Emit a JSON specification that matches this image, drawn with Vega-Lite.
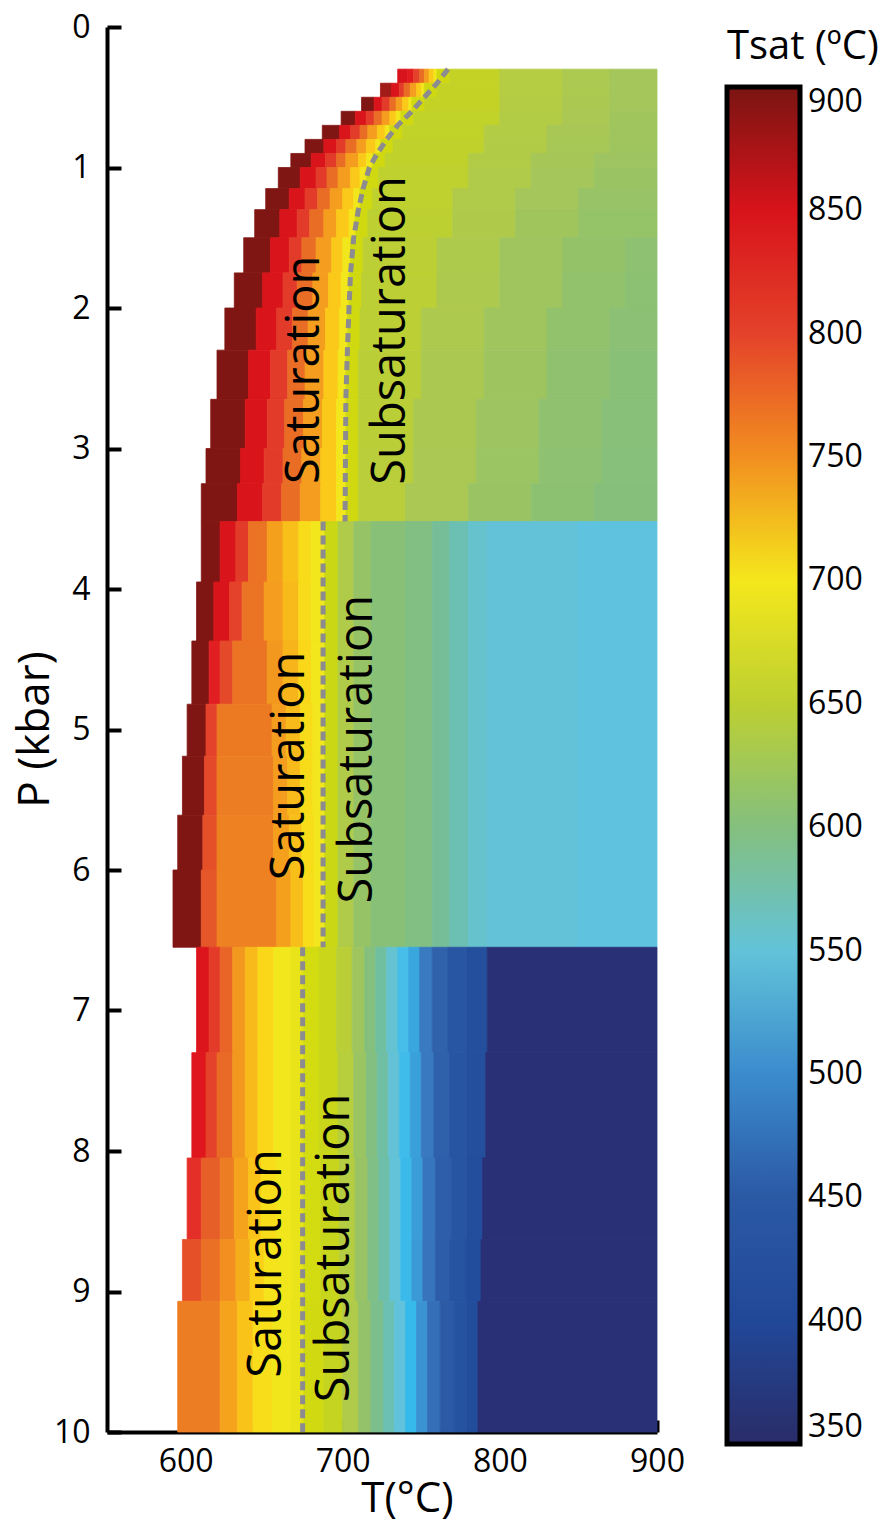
{
"$schema":"https://vega.github.io/schema/vega-lite/v6.json",
"width":550,"height":1405,
"autosize":"none",
"padding":{"left":107,"top":27,"right":232,"bottom":92},
"background":"white",
"config":{"view":{"stroke":null},"font":"Open Sans","legend":{"gradientVerticalMaxLength":1500}},
"layer":[
{"data":{"values":[
{"t0":735,"t1":741,"p0":0.3,"p1":0.4,"v":850},{"t0":741,"t1":745,"p0":0.3,"p1":0.4,"v":835},{"t0":745,"t1":749,"p0":0.3,"p1":0.4,"v":800},{"t0":749,"t1":752,"p0":0.3,"p1":0.4,"v":770},{"t0":752,"t1":755,"p0":0.3,"p1":0.4,"v":742},{"t0":755,"t1":758,"p0":0.3,"p1":0.4,"v":715},{"t0":758,"t1":760,"p0":0.3,"p1":0.4,"v":698},{"t0":760,"t1":768,"p0":0.3,"p1":0.4,"v":668},{"t0":768,"t1":800,"p0":0.3,"p1":0.4,"v":654},{"t0":800,"t1":840,"p0":0.3,"p1":0.4,"v":644},{"t0":840,"t1":870,"p0":0.3,"p1":0.4,"v":636},{"t0":870,"t1":900,"p0":0.3,"p1":0.4,"v":630},
{"t0":724,"t1":731,"p0":0.4,"p1":0.5,"v":870},{"t0":731,"t1":736,"p0":0.4,"p1":0.5,"v":848},{"t0":736,"t1":739,"p0":0.4,"p1":0.5,"v":805},{"t0":739,"t1":743,"p0":0.4,"p1":0.5,"v":770},{"t0":743,"t1":747,"p0":0.4,"p1":0.5,"v":742},{"t0":747,"t1":750,"p0":0.4,"p1":0.5,"v":715},{"t0":750,"t1":752,"p0":0.4,"p1":0.5,"v":698},{"t0":752,"t1":760,"p0":0.4,"p1":0.5,"v":668},{"t0":760,"t1":800,"p0":0.4,"p1":0.5,"v":654},{"t0":800,"t1":840,"p0":0.4,"p1":0.5,"v":644},{"t0":840,"t1":870,"p0":0.4,"p1":0.5,"v":636},{"t0":870,"t1":900,"p0":0.4,"p1":0.5,"v":630},
{"t0":712,"t1":720,"p0":0.5,"p1":0.6,"v":895},{"t0":720,"t1":725,"p0":0.5,"p1":0.6,"v":848},{"t0":725,"t1":730,"p0":0.5,"p1":0.6,"v":805},{"t0":730,"t1":734,"p0":0.5,"p1":0.6,"v":770},{"t0":734,"t1":738,"p0":0.5,"p1":0.6,"v":742},{"t0":738,"t1":742,"p0":0.5,"p1":0.6,"v":715},{"t0":742,"t1":744,"p0":0.5,"p1":0.6,"v":698},{"t0":744,"t1":752,"p0":0.5,"p1":0.6,"v":668},{"t0":752,"t1":800,"p0":0.5,"p1":0.6,"v":654},{"t0":800,"t1":840,"p0":0.5,"p1":0.6,"v":643},{"t0":840,"t1":870,"p0":0.5,"p1":0.6,"v":635},{"t0":870,"t1":900,"p0":0.5,"p1":0.6,"v":629},
{"t0":699,"t1":708,"p0":0.6,"p1":0.7,"v":895},{"t0":708,"t1":715,"p0":0.6,"p1":0.7,"v":848},{"t0":715,"t1":720,"p0":0.6,"p1":0.7,"v":805},{"t0":720,"t1":725,"p0":0.6,"p1":0.7,"v":770},{"t0":725,"t1":730,"p0":0.6,"p1":0.7,"v":742},{"t0":730,"t1":734,"p0":0.6,"p1":0.7,"v":715},{"t0":734,"t1":737,"p0":0.6,"p1":0.7,"v":698},{"t0":737,"t1":745,"p0":0.6,"p1":0.7,"v":668},{"t0":745,"t1":800,"p0":0.6,"p1":0.7,"v":653},{"t0":800,"t1":840,"p0":0.6,"p1":0.7,"v":642},{"t0":840,"t1":870,"p0":0.6,"p1":0.7,"v":634},{"t0":870,"t1":900,"p0":0.6,"p1":0.7,"v":627},
{"t0":687,"t1":698,"p0":0.7,"p1":0.8,"v":895},{"t0":698,"t1":705,"p0":0.7,"p1":0.8,"v":848},{"t0":705,"t1":711,"p0":0.7,"p1":0.8,"v":805},{"t0":711,"t1":716,"p0":0.7,"p1":0.8,"v":770},{"t0":716,"t1":722,"p0":0.7,"p1":0.8,"v":742},{"t0":722,"t1":727,"p0":0.7,"p1":0.8,"v":715},{"t0":727,"t1":730,"p0":0.7,"p1":0.8,"v":698},{"t0":730,"t1":738,"p0":0.7,"p1":0.8,"v":668},{"t0":738,"t1":790,"p0":0.7,"p1":0.8,"v":653},{"t0":790,"t1":830,"p0":0.7,"p1":0.8,"v":642},{"t0":830,"t1":870,"p0":0.7,"p1":0.8,"v":633},{"t0":870,"t1":900,"p0":0.7,"p1":0.8,"v":626},
{"t0":676,"t1":688,"p0":0.8,"p1":0.9,"v":895},{"t0":688,"t1":696,"p0":0.8,"p1":0.9,"v":848},{"t0":696,"t1":702,"p0":0.8,"p1":0.9,"v":805},{"t0":702,"t1":709,"p0":0.8,"p1":0.9,"v":770},{"t0":709,"t1":715,"p0":0.8,"p1":0.9,"v":742},{"t0":715,"t1":721,"p0":0.8,"p1":0.9,"v":715},{"t0":721,"t1":724,"p0":0.8,"p1":0.9,"v":698},{"t0":724,"t1":732,"p0":0.8,"p1":0.9,"v":668},{"t0":732,"t1":790,"p0":0.8,"p1":0.9,"v":652},{"t0":790,"t1":830,"p0":0.8,"p1":0.9,"v":641},{"t0":830,"t1":870,"p0":0.8,"p1":0.9,"v":632},{"t0":870,"t1":900,"p0":0.8,"p1":0.9,"v":625},
{"t0":667,"t1":680,"p0":0.9,"p1":1.0,"v":895},{"t0":680,"t1":689,"p0":0.9,"p1":1.0,"v":848},{"t0":689,"t1":696,"p0":0.9,"p1":1.0,"v":805},{"t0":696,"t1":702,"p0":0.9,"p1":1.0,"v":770},{"t0":702,"t1":710,"p0":0.9,"p1":1.0,"v":742},{"t0":710,"t1":715,"p0":0.9,"p1":1.0,"v":715},{"t0":715,"t1":719,"p0":0.9,"p1":1.0,"v":698},{"t0":719,"t1":727,"p0":0.9,"p1":1.0,"v":668},{"t0":727,"t1":780,"p0":0.9,"p1":1.0,"v":652},{"t0":780,"t1":820,"p0":0.9,"p1":1.0,"v":641},{"t0":820,"t1":860,"p0":0.9,"p1":1.0,"v":631},{"t0":860,"t1":900,"p0":0.9,"p1":1.0,"v":623},
{"t0":659,"t1":673,"p0":1.0,"p1":1.15,"v":895},{"t0":673,"t1":683,"p0":1.0,"p1":1.15,"v":848},{"t0":683,"t1":690,"p0":1.0,"p1":1.15,"v":805},{"t0":690,"t1":697,"p0":1.0,"p1":1.15,"v":770},{"t0":697,"t1":705,"p0":1.0,"p1":1.15,"v":742},{"t0":705,"t1":711,"p0":1.0,"p1":1.15,"v":715},{"t0":711,"t1":715,"p0":1.0,"p1":1.15,"v":698},{"t0":715,"t1":723,"p0":1.0,"p1":1.15,"v":668},{"t0":723,"t1":780,"p0":1.0,"p1":1.15,"v":651},{"t0":780,"t1":820,"p0":1.0,"p1":1.15,"v":640},{"t0":820,"t1":860,"p0":1.0,"p1":1.15,"v":629},{"t0":860,"t1":900,"p0":1.0,"p1":1.15,"v":621},
{"t0":651,"t1":666,"p0":1.15,"p1":1.3,"v":895},{"t0":666,"t1":676,"p0":1.15,"p1":1.3,"v":848},{"t0":676,"t1":684,"p0":1.15,"p1":1.3,"v":805},{"t0":684,"t1":692,"p0":1.15,"p1":1.3,"v":770},{"t0":692,"t1":700,"p0":1.15,"p1":1.3,"v":742},{"t0":700,"t1":707,"p0":1.15,"p1":1.3,"v":715},{"t0":707,"t1":711,"p0":1.15,"p1":1.3,"v":698},{"t0":711,"t1":719,"p0":1.15,"p1":1.3,"v":668},{"t0":719,"t1":770,"p0":1.15,"p1":1.3,"v":651},{"t0":770,"t1":810,"p0":1.15,"p1":1.3,"v":640},{"t0":810,"t1":850,"p0":1.15,"p1":1.3,"v":629},{"t0":850,"t1":900,"p0":1.15,"p1":1.3,"v":619},
{"t0":644,"t1":660,"p0":1.3,"p1":1.5,"v":895},{"t0":660,"t1":671,"p0":1.3,"p1":1.5,"v":848},{"t0":671,"t1":679,"p0":1.3,"p1":1.5,"v":805},{"t0":679,"t1":688,"p0":1.3,"p1":1.5,"v":770},{"t0":688,"t1":696,"p0":1.3,"p1":1.5,"v":742},{"t0":696,"t1":704,"p0":1.3,"p1":1.5,"v":715},{"t0":704,"t1":708,"p0":1.3,"p1":1.5,"v":698},{"t0":708,"t1":716,"p0":1.3,"p1":1.5,"v":668},{"t0":716,"t1":770,"p0":1.3,"p1":1.5,"v":650},{"t0":770,"t1":810,"p0":1.3,"p1":1.5,"v":639},{"t0":810,"t1":850,"p0":1.3,"p1":1.5,"v":627},{"t0":850,"t1":900,"p0":1.3,"p1":1.5,"v":617},
{"t0":637,"t1":654,"p0":1.5,"p1":1.75,"v":895},{"t0":654,"t1":666,"p0":1.5,"p1":1.75,"v":848},{"t0":666,"t1":674,"p0":1.5,"p1":1.75,"v":805},{"t0":674,"t1":683,"p0":1.5,"p1":1.75,"v":770},{"t0":683,"t1":693,"p0":1.5,"p1":1.75,"v":742},{"t0":693,"t1":700,"p0":1.5,"p1":1.75,"v":715},{"t0":700,"t1":705,"p0":1.5,"p1":1.75,"v":698},{"t0":705,"t1":713,"p0":1.5,"p1":1.75,"v":668},{"t0":713,"t1":760,"p0":1.5,"p1":1.75,"v":649},{"t0":760,"t1":800,"p0":1.5,"p1":1.75,"v":638},{"t0":800,"t1":840,"p0":1.5,"p1":1.75,"v":626},{"t0":840,"t1":880,"p0":1.5,"p1":1.75,"v":616},{"t0":880,"t1":900,"p0":1.5,"p1":1.75,"v":610},
{"t0":631,"t1":649,"p0":1.75,"p1":2.0,"v":895},{"t0":649,"t1":662,"p0":1.75,"p1":2.0,"v":848},{"t0":662,"t1":671,"p0":1.75,"p1":2.0,"v":805},{"t0":671,"t1":681,"p0":1.75,"p1":2.0,"v":770},{"t0":681,"t1":691,"p0":1.75,"p1":2.0,"v":742},{"t0":691,"t1":699,"p0":1.75,"p1":2.0,"v":715},{"t0":699,"t1":704,"p0":1.75,"p1":2.0,"v":698},{"t0":704,"t1":712,"p0":1.75,"p1":2.0,"v":668},{"t0":712,"t1":760,"p0":1.75,"p1":2.0,"v":649},{"t0":760,"t1":800,"p0":1.75,"p1":2.0,"v":637},{"t0":800,"t1":840,"p0":1.75,"p1":2.0,"v":626},{"t0":840,"t1":880,"p0":1.75,"p1":2.0,"v":614},{"t0":880,"t1":900,"p0":1.75,"p1":2.0,"v":608},
{"t0":625,"t1":645,"p0":2.0,"p1":2.3,"v":895},{"t0":645,"t1":658,"p0":2.0,"p1":2.3,"v":848},{"t0":658,"t1":668,"p0":2.0,"p1":2.3,"v":805},{"t0":668,"t1":678,"p0":2.0,"p1":2.3,"v":770},{"t0":678,"t1":689,"p0":2.0,"p1":2.3,"v":742},{"t0":689,"t1":698,"p0":2.0,"p1":2.3,"v":715},{"t0":698,"t1":703,"p0":2.0,"p1":2.3,"v":698},{"t0":703,"t1":711,"p0":2.0,"p1":2.3,"v":668},{"t0":711,"t1":750,"p0":2.0,"p1":2.3,"v":649},{"t0":750,"t1":790,"p0":2.0,"p1":2.3,"v":637},{"t0":790,"t1":830,"p0":2.0,"p1":2.3,"v":626},{"t0":830,"t1":870,"p0":2.0,"p1":2.3,"v":614},{"t0":870,"t1":900,"p0":2.0,"p1":2.3,"v":607},
{"t0":620,"t1":640,"p0":2.3,"p1":2.65,"v":895},{"t0":640,"t1":654,"p0":2.3,"p1":2.65,"v":848},{"t0":654,"t1":665,"p0":2.3,"p1":2.65,"v":805},{"t0":665,"t1":676,"p0":2.3,"p1":2.65,"v":770},{"t0":676,"t1":688,"p0":2.3,"p1":2.65,"v":742},{"t0":688,"t1":697,"p0":2.3,"p1":2.65,"v":715},{"t0":697,"t1":702,"p0":2.3,"p1":2.65,"v":698},{"t0":702,"t1":710,"p0":2.3,"p1":2.65,"v":668},{"t0":710,"t1":750,"p0":2.3,"p1":2.65,"v":648},{"t0":750,"t1":790,"p0":2.3,"p1":2.65,"v":635},{"t0":790,"t1":830,"p0":2.3,"p1":2.65,"v":624},{"t0":830,"t1":870,"p0":2.3,"p1":2.65,"v":612},{"t0":870,"t1":900,"p0":2.3,"p1":2.65,"v":605},
{"t0":616,"t1":638,"p0":2.65,"p1":3.0,"v":895},{"t0":638,"t1":652,"p0":2.65,"p1":3.0,"v":848},{"t0":652,"t1":663,"p0":2.65,"p1":3.0,"v":805},{"t0":663,"t1":675,"p0":2.65,"p1":3.0,"v":770},{"t0":675,"t1":687,"p0":2.65,"p1":3.0,"v":742},{"t0":687,"t1":696,"p0":2.65,"p1":3.0,"v":715},{"t0":696,"t1":702,"p0":2.65,"p1":3.0,"v":698},{"t0":702,"t1":710,"p0":2.65,"p1":3.0,"v":668},{"t0":710,"t1":745,"p0":2.65,"p1":3.0,"v":648},{"t0":745,"t1":785,"p0":2.65,"p1":3.0,"v":635},{"t0":785,"t1":825,"p0":2.65,"p1":3.0,"v":623},{"t0":825,"t1":865,"p0":2.65,"p1":3.0,"v":611},{"t0":865,"t1":900,"p0":2.65,"p1":3.0,"v":604},
{"t0":613,"t1":635,"p0":3.0,"p1":3.25,"v":895},{"t0":635,"t1":650,"p0":3.0,"p1":3.25,"v":848},{"t0":650,"t1":662,"p0":3.0,"p1":3.25,"v":805},{"t0":662,"t1":674,"p0":3.0,"p1":3.25,"v":770},{"t0":674,"t1":686,"p0":3.0,"p1":3.25,"v":742},{"t0":686,"t1":696,"p0":3.0,"p1":3.25,"v":715},{"t0":696,"t1":702,"p0":3.0,"p1":3.25,"v":698},{"t0":702,"t1":710,"p0":3.0,"p1":3.25,"v":668},{"t0":710,"t1":745,"p0":3.0,"p1":3.25,"v":647},{"t0":745,"t1":785,"p0":3.0,"p1":3.25,"v":634},{"t0":785,"t1":825,"p0":3.0,"p1":3.25,"v":622},{"t0":825,"t1":865,"p0":3.0,"p1":3.25,"v":610},{"t0":865,"t1":900,"p0":3.0,"p1":3.25,"v":603},
{"t0":610,"t1":633,"p0":3.25,"p1":3.52,"v":895},{"t0":633,"t1":649,"p0":3.25,"p1":3.52,"v":848},{"t0":649,"t1":661,"p0":3.25,"p1":3.52,"v":805},{"t0":661,"t1":673,"p0":3.25,"p1":3.52,"v":770},{"t0":673,"t1":686,"p0":3.25,"p1":3.52,"v":742},{"t0":686,"t1":696,"p0":3.25,"p1":3.52,"v":715},{"t0":696,"t1":702,"p0":3.25,"p1":3.52,"v":698},{"t0":702,"t1":710,"p0":3.25,"p1":3.52,"v":668},{"t0":710,"t1":740,"p0":3.25,"p1":3.52,"v":647},{"t0":740,"t1":780,"p0":3.25,"p1":3.52,"v":634},{"t0":780,"t1":820,"p0":3.25,"p1":3.52,"v":621},{"t0":820,"t1":860,"p0":3.25,"p1":3.52,"v":609},{"t0":860,"t1":900,"p0":3.25,"p1":3.52,"v":602},
{"t0":688,"t1":697,"p0":3.52,"p1":6.55,"v":662},{"t0":697,"t1":707,"p0":3.52,"p1":6.55,"v":640},{"t0":707,"t1":718,"p0":3.52,"p1":6.55,"v":618},{"t0":718,"t1":740,"p0":3.52,"p1":6.55,"v":605},{"t0":740,"t1":757,"p0":3.52,"p1":6.55,"v":597},{"t0":757,"t1":768,"p0":3.52,"p1":6.55,"v":584},{"t0":768,"t1":780,"p0":3.52,"p1":6.55,"v":570},{"t0":780,"t1":792,"p0":3.52,"p1":6.55,"v":558},{"t0":792,"t1":850,"p0":3.52,"p1":6.55,"v":551},{"t0":850,"t1":900,"p0":3.52,"p1":6.55,"v":545},
{"t0":610,"t1":622,"p0":3.52,"p1":3.95,"v":895},{"t0":622,"t1":632,"p0":3.52,"p1":3.95,"v":848},{"t0":632,"t1":640,"p0":3.52,"p1":3.95,"v":805},{"t0":640,"t1":652,"p0":3.52,"p1":3.95,"v":765},{"t0":652,"t1":662,"p0":3.52,"p1":3.95,"v":740},{"t0":662,"t1":672,"p0":3.52,"p1":3.95,"v":720},{"t0":672,"t1":680,"p0":3.52,"p1":3.95,"v":706},{"t0":680,"t1":688,"p0":3.52,"p1":3.95,"v":698},
{"t0":607,"t1":618,"p0":3.95,"p1":4.37,"v":895},{"t0":618,"t1":628,"p0":3.95,"p1":4.37,"v":848},{"t0":628,"t1":636,"p0":3.95,"p1":4.37,"v":800},{"t0":636,"t1":650,"p0":3.95,"p1":4.37,"v":765},{"t0":650,"t1":662,"p0":3.95,"p1":4.37,"v":742},{"t0":662,"t1":672,"p0":3.95,"p1":4.37,"v":722},{"t0":672,"t1":680,"p0":3.95,"p1":4.37,"v":706},{"t0":680,"t1":688,"p0":3.95,"p1":4.37,"v":698},
{"t0":604,"t1":615,"p0":4.37,"p1":4.82,"v":895},{"t0":615,"t1":622,"p0":4.37,"p1":4.82,"v":830},{"t0":622,"t1":630,"p0":4.37,"p1":4.82,"v":795},{"t0":630,"t1":652,"p0":4.37,"p1":4.82,"v":765},{"t0":652,"t1":662,"p0":4.37,"p1":4.82,"v":745},{"t0":662,"t1":672,"p0":4.37,"p1":4.82,"v":725},{"t0":672,"t1":680,"p0":4.37,"p1":4.82,"v":708},{"t0":680,"t1":688,"p0":4.37,"p1":4.82,"v":698},
{"t0":601,"t1":613,"p0":4.82,"p1":5.19,"v":895},{"t0":613,"t1":620,"p0":4.82,"p1":5.19,"v":800},{"t0":620,"t1":655,"p0":4.82,"p1":5.19,"v":762},{"t0":655,"t1":664,"p0":4.82,"p1":5.19,"v":742},{"t0":664,"t1":673,"p0":4.82,"p1":5.19,"v":722},{"t0":673,"t1":681,"p0":4.82,"p1":5.19,"v":706},{"t0":681,"t1":688,"p0":4.82,"p1":5.19,"v":698},
{"t0":598,"t1":612,"p0":5.19,"p1":5.61,"v":895},{"t0":612,"t1":620,"p0":5.19,"p1":5.61,"v":795},{"t0":620,"t1":656,"p0":5.19,"p1":5.61,"v":760},{"t0":656,"t1":665,"p0":5.19,"p1":5.61,"v":742},{"t0":665,"t1":673,"p0":5.19,"p1":5.61,"v":722},{"t0":673,"t1":681,"p0":5.19,"p1":5.61,"v":706},{"t0":681,"t1":688,"p0":5.19,"p1":5.61,"v":698},
{"t0":595,"t1":611,"p0":5.61,"p1":6.0,"v":895},{"t0":611,"t1":620,"p0":5.61,"p1":6.0,"v":790},{"t0":620,"t1":656,"p0":5.61,"p1":6.0,"v":758},{"t0":656,"t1":666,"p0":5.61,"p1":6.0,"v":740},{"t0":666,"t1":674,"p0":5.61,"p1":6.0,"v":720},{"t0":674,"t1":682,"p0":5.61,"p1":6.0,"v":705},{"t0":682,"t1":688,"p0":5.61,"p1":6.0,"v":698},
{"t0":592,"t1":610,"p0":6.0,"p1":6.55,"v":895},{"t0":610,"t1":620,"p0":6.0,"p1":6.55,"v":785},{"t0":620,"t1":658,"p0":6.0,"p1":6.55,"v":758},{"t0":658,"t1":667,"p0":6.0,"p1":6.55,"v":740},{"t0":667,"t1":675,"p0":6.0,"p1":6.55,"v":720},{"t0":675,"t1":682,"p0":6.0,"p1":6.55,"v":705},{"t0":682,"t1":688,"p0":6.0,"p1":6.55,"v":698},
{"t0":607,"t1":615,"p0":6.55,"p1":7.3,"v":845},{"t0":615,"t1":622,"p0":6.55,"p1":7.3,"v":805},{"t0":622,"t1":630,"p0":6.55,"p1":7.3,"v":775},{"t0":630,"t1":638,"p0":6.55,"p1":7.3,"v":745},{"t0":638,"t1":646,"p0":6.55,"p1":7.3,"v":722},{"t0":646,"t1":656,"p0":6.55,"p1":7.3,"v":708},{"t0":656,"t1":667,"p0":6.55,"p1":7.3,"v":698},{"t0":667,"t1":675,"p0":6.55,"p1":7.3,"v":690},{"t0":675,"t1":685,"p0":6.55,"p1":7.3,"v":672},{"t0":685,"t1":696,"p0":6.55,"p1":7.3,"v":660},{"t0":696,"t1":706,"p0":6.55,"p1":7.3,"v":648},{"t0":706,"t1":714,"p0":6.55,"p1":7.3,"v":625},{"t0":714,"t1":721,"p0":6.55,"p1":7.3,"v":600},{"t0":721,"t1":728,"p0":6.55,"p1":7.3,"v":578},{"t0":728,"t1":735,"p0":6.55,"p1":7.3,"v":556},{"t0":735,"t1":742,"p0":6.55,"p1":7.3,"v":533},{"t0":742,"t1":749,"p0":6.55,"p1":7.3,"v":515},{"t0":749,"t1":757,"p0":6.55,"p1":7.3,"v":488},{"t0":757,"t1":767,"p0":6.55,"p1":7.3,"v":462},{"t0":767,"t1":779,"p0":6.55,"p1":7.3,"v":440},{"t0":779,"t1":792,"p0":6.55,"p1":7.3,"v":418},{"t0":792,"t1":900,"p0":6.55,"p1":7.3,"v":362},
{"t0":604,"t1":613,"p0":7.3,"p1":8.05,"v":840},{"t0":613,"t1":620,"p0":7.3,"p1":8.05,"v":800},{"t0":620,"t1":630,"p0":7.3,"p1":8.05,"v":772},{"t0":630,"t1":638,"p0":7.3,"p1":8.05,"v":745},{"t0":638,"t1":646,"p0":7.3,"p1":8.05,"v":722},{"t0":646,"t1":656,"p0":7.3,"p1":8.05,"v":708},{"t0":656,"t1":667,"p0":7.3,"p1":8.05,"v":698},{"t0":667,"t1":675,"p0":7.3,"p1":8.05,"v":690},{"t0":675,"t1":685,"p0":7.3,"p1":8.05,"v":672},{"t0":685,"t1":697,"p0":7.3,"p1":8.05,"v":660},{"t0":697,"t1":707,"p0":7.3,"p1":8.05,"v":646},{"t0":707,"t1":715,"p0":7.3,"p1":8.05,"v":622},{"t0":715,"t1":722,"p0":7.3,"p1":8.05,"v":598},{"t0":722,"t1":729,"p0":7.3,"p1":8.05,"v":576},{"t0":729,"t1":736,"p0":7.3,"p1":8.05,"v":552},{"t0":736,"t1":743,"p0":7.3,"p1":8.05,"v":530},{"t0":743,"t1":750,"p0":7.3,"p1":8.05,"v":512},{"t0":750,"t1":758,"p0":7.3,"p1":8.05,"v":486},{"t0":758,"t1":768,"p0":7.3,"p1":8.05,"v":460},{"t0":768,"t1":779,"p0":7.3,"p1":8.05,"v":438},{"t0":779,"t1":791,"p0":7.3,"p1":8.05,"v":418},{"t0":791,"t1":900,"p0":7.3,"p1":8.05,"v":362},
{"t0":601,"t1":610,"p0":8.05,"p1":8.63,"v":815},{"t0":610,"t1":622,"p0":8.05,"p1":8.63,"v":780},{"t0":622,"t1":631,"p0":8.05,"p1":8.63,"v":760},{"t0":631,"t1":640,"p0":8.05,"p1":8.63,"v":738},{"t0":640,"t1":648,"p0":8.05,"p1":8.63,"v":718},{"t0":648,"t1":658,"p0":8.05,"p1":8.63,"v":705},{"t0":658,"t1":667,"p0":8.05,"p1":8.63,"v":697},{"t0":667,"t1":675,"p0":8.05,"p1":8.63,"v":690},{"t0":675,"t1":686,"p0":8.05,"p1":8.63,"v":672},{"t0":686,"t1":698,"p0":8.05,"p1":8.63,"v":658},{"t0":698,"t1":708,"p0":8.05,"p1":8.63,"v":644},{"t0":708,"t1":716,"p0":8.05,"p1":8.63,"v":620},{"t0":716,"t1":723,"p0":8.05,"p1":8.63,"v":596},{"t0":723,"t1":730,"p0":8.05,"p1":8.63,"v":574},{"t0":730,"t1":737,"p0":8.05,"p1":8.63,"v":550},{"t0":737,"t1":744,"p0":8.05,"p1":8.63,"v":528},{"t0":744,"t1":751,"p0":8.05,"p1":8.63,"v":510},{"t0":751,"t1":759,"p0":8.05,"p1":8.63,"v":484},{"t0":759,"t1":769,"p0":8.05,"p1":8.63,"v":458},{"t0":769,"t1":779,"p0":8.05,"p1":8.63,"v":436},{"t0":779,"t1":789,"p0":8.05,"p1":8.63,"v":416},{"t0":789,"t1":900,"p0":8.05,"p1":8.63,"v":362},
{"t0":598,"t1":610,"p0":8.63,"p1":9.07,"v":790},{"t0":610,"t1":622,"p0":8.63,"p1":9.07,"v":768},{"t0":622,"t1":632,"p0":8.63,"p1":9.07,"v":750},{"t0":632,"t1":641,"p0":8.63,"p1":9.07,"v":730},{"t0":641,"t1":650,"p0":8.63,"p1":9.07,"v":712},{"t0":650,"t1":660,"p0":8.63,"p1":9.07,"v":702},{"t0":660,"t1":668,"p0":8.63,"p1":9.07,"v":696},{"t0":668,"t1":675,"p0":8.63,"p1":9.07,"v":690},{"t0":675,"t1":686,"p0":8.63,"p1":9.07,"v":672},{"t0":686,"t1":698,"p0":8.63,"p1":9.07,"v":658},{"t0":698,"t1":708,"p0":8.63,"p1":9.07,"v":644},{"t0":708,"t1":716,"p0":8.63,"p1":9.07,"v":620},{"t0":716,"t1":723,"p0":8.63,"p1":9.07,"v":596},{"t0":723,"t1":730,"p0":8.63,"p1":9.07,"v":574},{"t0":730,"t1":737,"p0":8.63,"p1":9.07,"v":550},{"t0":737,"t1":744,"p0":8.63,"p1":9.07,"v":528},{"t0":744,"t1":751,"p0":8.63,"p1":9.07,"v":508},{"t0":751,"t1":759,"p0":8.63,"p1":9.07,"v":482},{"t0":759,"t1":768,"p0":8.63,"p1":9.07,"v":456},{"t0":768,"t1":778,"p0":8.63,"p1":9.07,"v":434},{"t0":778,"t1":788,"p0":8.63,"p1":9.07,"v":414},{"t0":788,"t1":900,"p0":8.63,"p1":9.07,"v":362},
{"t0":595,"t1":622,"p0":9.07,"p1":10,"v":760},{"t0":622,"t1":633,"p0":9.07,"p1":10,"v":738},{"t0":633,"t1":643,"p0":9.07,"p1":10,"v":718},{"t0":643,"t1":655,"p0":9.07,"p1":10,"v":705},{"t0":655,"t1":667,"p0":9.07,"p1":10,"v":697},{"t0":667,"t1":675,"p0":9.07,"p1":10,"v":690},{"t0":675,"t1":688,"p0":9.07,"p1":10,"v":670},{"t0":688,"t1":700,"p0":9.07,"p1":10,"v":656},{"t0":700,"t1":710,"p0":9.07,"p1":10,"v":640},{"t0":710,"t1":718,"p0":9.07,"p1":10,"v":615},{"t0":718,"t1":726,"p0":9.07,"p1":10,"v":592},{"t0":726,"t1":733,"p0":9.07,"p1":10,"v":570},{"t0":733,"t1":740,"p0":9.07,"p1":10,"v":548},{"t0":740,"t1":747,"p0":9.07,"p1":10,"v":526},{"t0":747,"t1":754,"p0":9.07,"p1":10,"v":505},{"t0":754,"t1":762,"p0":9.07,"p1":10,"v":478},{"t0":762,"t1":771,"p0":9.07,"p1":10,"v":452},{"t0":771,"t1":779,"p0":9.07,"p1":10,"v":430},{"t0":779,"t1":786,"p0":9.07,"p1":10,"v":412},{"t0":786,"t1":900,"p0":9.07,"p1":10,"v":362}
]},
"mark":{"type":"rect","stroke":{"expr":"scale('color', datum.v)"},"strokeWidth":0.8},
"encoding":{
"x":{"field":"t0","type":"quantitative","title":"T(°C)","scale":{"domain":[550,900],"nice":false,"zero":false},
"axis":{"values":[600,650,700,750,800,850,900],"labelExpr":"datum.value % 100 == 0 ? datum.label : ''","grid":false,"domainColor":"black","domainWidth":4,"tickColor":"black","tickWidth":4,"tickSize":-12,"labelFontSize":32,"labelColor":"black","labelPadding":26,"labelFlush":false,"titleFontSize":42,"titleFontWeight":"normal","titleColor":"black","titleX":300,"titleY":66,"titleAlign":"center","titleBaseline":"middle"}},
"x2":{"field":"t1"},
"y":{"field":"p0","type":"quantitative","title":"P (kbar)","scale":{"domain":[0,10],"reverse":true,"nice":false,"zero":false},
"axis":{"values":[0,1,2,3,4,5,6,7,8,9,10],"format":"d","grid":false,"domainColor":"black","domainWidth":4,"tickColor":"black","tickWidth":4,"tickSize":-14,"labelFontSize":32,"labelColor":"black","labelPadding":31,"labelFlush":false,"titleFontSize":44,"titleFontWeight":"normal","titleColor":"black","titleX":-72,"titleY":702,"titleAlign":"center","titleBaseline":"middle","titleAngle":270}},
"y2":{"field":"p1"},
"color":{"field":"v","type":"quantitative","title":"Tsat (ºC)",
"scale":{"type":"linear","interpolate":"rgb","domain":[350,360,370,380,395,410,430,450,465,480,495,505,515,525,535,545,555,565,575,590,600,615,630,645,655,665,680,690,700,710,725,740,752,765,780,795,810,825,840,850,860,875,890,900],"range":["#2a2c68","#2a2f74","#27337f","#243b8b","#214696","#214c9b","#2653a0","#2b59a4","#3163ad","#3671ba","#3a84c8","#3b93d2","#39a6de","#33b8eb","#4cbfe8","#5fc3df","#65c2d2","#69c1bf","#6fbfa6","#7abe8f","#84bf7e","#93c26a","#a5c65a","#b6cd40","#c4d322","#cdd810","#dade12","#e9e41a","#f4e71c","#fbd418","#f7b41b","#f5a01d","#f18c20","#eb7424","#e65e28","#e4492a","#e3342a","#e22424","#df161d","#d8131b","#b01c1b","#9a1a17","#851714","#7a1512"]},
"legend":{"type":"gradient","orient":"none","legendX":620,"legendY":0,"direction":"vertical","gradientLength":1357,"gradientThickness":73,"gradientStrokeColor":"black","gradientStrokeWidth":5,"values":[350,400,450,500,550,600,650,700,750,800,850,900],"labelFontSize":32,"labelColor":"black","labelOffset":8,"labelOverlap":false,"labelBaseline":"middle","titleFontSize":40,"titleFontWeight":"normal","titleColor":"black","titlePadding":20,"titleLimit":400,
"encoding":{"labels":{"update":{"baseline":{"value":"middle"}}}}}}
}},
{"data":{"values":[
{"seg":"A","T":767,"P":0.3},{"seg":"A","T":760,"P":0.4},{"seg":"A","T":752,"P":0.5},{"seg":"A","T":744,"P":0.6},{"seg":"A","T":735,"P":0.7},{"seg":"A","T":728,"P":0.8},{"seg":"A","T":722,"P":0.9},{"seg":"A","T":717,"P":1.0},{"seg":"A","T":713,"P":1.15},{"seg":"A","T":710,"P":1.3},{"seg":"A","T":707,"P":1.5},{"seg":"A","T":705,"P":1.75},{"seg":"A","T":704,"P":2.0},{"seg":"A","T":703,"P":2.3},{"seg":"A","T":702,"P":2.65},{"seg":"A","T":701.8,"P":3.0},{"seg":"A","T":701.5,"P":3.52},
{"seg":"B","T":687.5,"P":3.52},{"seg":"B","T":687.5,"P":6.55},
{"seg":"C","T":674.5,"P":6.55},{"seg":"C","T":674.5,"P":10}
]},
"mark":{"type":"line","stroke":"#8b8b90","strokeWidth":5,"strokeDash":[9,5]},
"encoding":{"x":{"field":"T","type":"quantitative","title":"T(°C)"},"y":{"field":"P","type":"quantitative","title":"P (kbar)"},"detail":{"field":"seg"},"order":{"field":"P","type":"quantitative"}}},
{"data":{"values":[
{"T":676,"P":2.44,"label":"Saturation"},{"T":731,"P":2.16,"label":"Subsaturation"},
{"T":666.5,"P":5.26,"label":"Saturation"},{"T":710,"P":5.14,"label":"Subsaturation"},
{"T":651.5,"P":8.8,"label":"Saturation"},{"T":695,"P":8.69,"label":"Subsaturation"}
]},
"mark":{"type":"text","angle":270,"fontSize":47,"color":"black","align":"center","baseline":"middle"},
"encoding":{"x":{"field":"T","type":"quantitative","title":"T(°C)"},"y":{"field":"P","type":"quantitative","title":"P (kbar)"},"text":{"field":"label"}}}
]
}
